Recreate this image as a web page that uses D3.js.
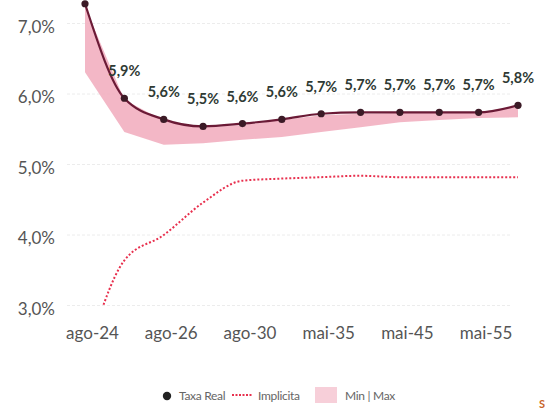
<!DOCTYPE html>
<html>
<head>
<meta charset="utf-8">
<script src="https://cdn.jsdelivr.net/npm/d3@7"></script>
<style>
  html, body { margin: 0; padding: 0; background: #fff; }
  svg { display: block; }
  .tick line { display: none; }
  .domain { display: none; }
</style>
</head>
<body>
<svg id="chart" width="545" height="411"></svg>
<script>
// Maturities of the real-rate curve (NTN-B vertices)
const categories = ["ago-24", "mai-25", "ago-26", "ago-28", "ago-30", "ago-32",
                    "mai-35", "ago-40", "mai-45", "ago-50", "mai-55", "ago-60"];
const xTickLabels = ["ago-24", "ago-26", "ago-30", "mai-35", "mai-45", "mai-55"];
const yTicks = [3, 4, 5, 6, 7];

// Real rate (%), implied inflation (%), and min / max range of the real rate
const taxaReal  = [7.28, 5.94, 5.64, 5.54, 5.58, 5.64, 5.72, 5.74, 5.74, 5.74, 5.74, 5.84];
const implicita = [2.2, 3.64, 4.00, 4.46, 4.77, 4.80, 4.82, 4.84, 4.82, 4.82, 4.82, 4.82];
const minRange  = [6.31, 5.46, 5.28, 5.30, 5.35, 5.39, 5.46, 5.53, 5.60, 5.63, 5.66, 5.67];
const maxRange  = [7.24, 5.92, 5.62, 5.53, 5.56, 5.63, 5.70, 5.72, 5.73, 5.73, 5.74, 5.82];

const FONT = "Lato, 'Open Sans', sans-serif";
const svg = d3.select("#chart");

const x = d3.scalePoint().domain(categories).range([85, 518]);
const y = d3.scaleLinear().domain([3, 7]).range([305.5, 23.5]);

const pt = d3.formatLocale({ decimal: ",", thousands: ".", grouping: [3], currency: ["R$", ""] });
const fmt1 = pt.format(".1f");
const pct = v => fmt1(v) + "%";

// faint horizontal guides
svg.append("g").selectAll("line").data(yTicks).join("line")
  .attr("x1", 67).attr("x2", 512)
  .attr("y1", d => y(d)).attr("y2", d => y(d))
  .attr("stroke", "#ececec").attr("stroke-width", 1)
  .attr("stroke-dasharray", "3,2");

// y axis
const yAxis = svg.append("g")
  .attr("transform", "translate(67,0)")
  .call(d3.axisLeft(y).tickValues(yTicks).tickSize(0).tickPadding(12).tickFormat(pct));
yAxis.selectAll("text")
  .attr("font-family", FONT).attr("font-size", 17).attr("fill", "#555")
  .attr("dy", "0.5em");

// x axis
const xAxis = svg.append("g")
  .attr("transform", `translate(0,${y(3)})`)
  .call(d3.axisBottom(x).tickValues(xTickLabels).tickSize(0).tickPadding(21));
xAxis.selectAll("text")
  .attr("font-family", FONT).attr("font-size", 17).attr("fill", "#555")
  .attr("dx", 7);

const rows = categories.map((c, i) => ({
  c, i, real: taxaReal[i], imp: implicita[i], lo: minRange[i], hi: maxRange[i]
}));

// min | max band
svg.append("path")
  .datum(rows)
  .attr("d", d3.area().x(d => x(d.c)).y0(d => y(d.lo)).y1(d => y(d.hi)))
  .attr("fill", "#f2afc0").attr("opacity", 0.9);

// implied inflation, clipped to the plot floor
svg.append("clipPath").attr("id", "plotClip")
  .append("rect").attr("x", 0).attr("y", 0).attr("width", 545).attr("height", y(3));
svg.append("path")
  .datum(rows)
  .attr("clip-path", "url(#plotClip)")
  .attr("d", d3.line().x(d => x(d.c)).y(d => y(d.imp)).curve(d3.curveMonotoneX))
  .attr("fill", "none").attr("stroke", "#e8304e").attr("stroke-width", 2)
  .attr("stroke-dasharray", "2,2");

// real rate line and markers
svg.append("path")
  .datum(rows)
  .attr("d", d3.line().x(d => x(d.c)).y(d => y(d.real)).curve(d3.curveMonotoneX))
  .attr("fill", "none").attr("stroke", "#6b1a36").attr("stroke-width", 2.2);
svg.append("g").selectAll("circle").data(rows).join("circle")
  .attr("cx", d => x(d.c)).attr("cy", d => y(d.real)).attr("r", 3.6)
  .attr("fill", "#3b1a26");

// value labels (the first vertex sits at the top edge, so its label is left out)
svg.append("g").selectAll("text").data(rows.filter(d => d.i > 0)).join("text")
  .attr("x", d => x(d.c)).attr("y", d => y(d.real) - 22)
  .attr("text-anchor", "middle")
  .attr("font-family", FONT).attr("font-weight", 700).attr("font-size", 14.5)
  .attr("fill", "#2f3a34")
  .text(d => pct(d.real));

// legend
const lg = svg.append("g").attr("font-family", FONT).attr("font-size", 12)
  .attr("letter-spacing", -0.3).attr("fill", "#666");
const ly = 395;
lg.append("circle").attr("cx", 167).attr("cy", ly + 1).attr("r", 4.2).attr("fill", "#222");
lg.append("text").attr("x", 179).attr("y", ly + 5).text("Taxa Real");
lg.append("line").attr("x1", 232).attr("x2", 253).attr("y1", ly).attr("y2", ly)
  .attr("stroke", "#e8304e").attr("stroke-width", 2).attr("stroke-dasharray", "2,1.5");
lg.append("text").attr("x", 258).attr("y", ly + 5).text("Implicita");
lg.append("rect").attr("x", 315).attr("y", ly - 8).attr("width", 22).attr("height", 16)
  .attr("fill", "#f2afc0").attr("opacity", 0.6);
lg.append("text").attr("x", 345).attr("y", ly + 5).text("Min | Max");

// source mark, cut by the right edge
svg.append("text").attr("x", 539).attr("y", 408)
  .attr("font-family", FONT).attr("font-size", 11).attr("font-weight", 700)
  .attr("fill", "#c8642a").text("S");
</script>
</body>
</html>
